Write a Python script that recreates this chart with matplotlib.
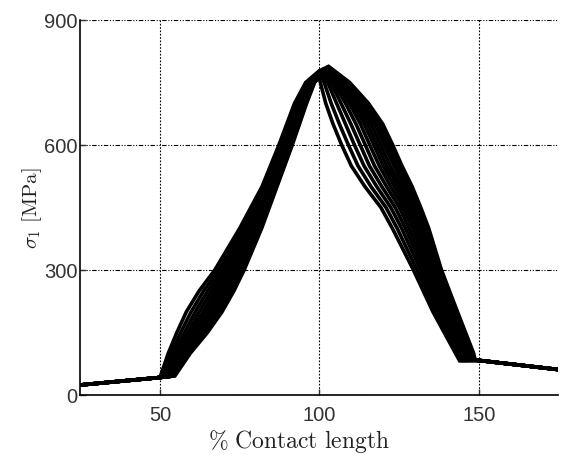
import matplotlib
matplotlib.use("Agg")
import matplotlib.pyplot as plt

plt.rcParams.update(
    {
        "font.family": "Liberation Sans",
        "mathtext.fontset": "cm",
        "figure.dpi": 100,
    }
)

# common ends shared by every load step
left_x = [25, 50]
left_y = [24, 42]
right_x = [150, 175]
right_y = [83, 61]

# stress levels [MPa] at which each profile is sampled on the way up / down
rise_levels = [100, 150, 200, 250, 300, 400, 500, 600, 700, 750]
fall_levels = [750, 700, 650, 600, 550, 500, 450, 400, 300, 200, 100]

# start of the rise (knee), maximum and end of the descent (foot) per step
knee_x = [50.0, 50.6, 51.2, 51.7, 52.2, 52.6, 53.0, 53.3, 53.6, 54.0, 54.2, 54.5, 54.7]
knee_y = [42, 42.5, 43, 43.4, 43.8, 44.2, 44.5, 44.8, 45.1, 45.4, 45.6, 45.8, 46]
peak_x = [99.5, 100.0, 100.4, 100.8, 101.1, 101.4, 101.7, 102.0, 102.2, 102.4, 102.7, 102.8, 103.0]
peak_y = [775, 777, 778, 780, 781, 782, 783, 784, 785, 786, 787, 787, 788]
foot_x = [144.0, 144.6, 145.2, 145.7, 146.2, 146.6, 147.0, 147.4, 147.7, 148.0, 148.3, 148.6, 148.8]
foot_y = [82, 82.5, 83, 83.4, 83.8, 84.2, 84.5, 84.8, 85.1, 85.4, 85.6, 85.8, 86]

# % contact length where each step crosses rise_levels
rise_x = [
    [52.6, 55.3, 58.3, 62.3, 67.2, 75.0, 82.0, 87.3, 92.2, 95.7],
    [53.5, 56.5, 59.8, 63.7, 68.4, 75.9, 82.6, 87.9, 92.7, 96.1],
    [54.3, 57.7, 61.1, 65.0, 69.5, 76.7, 83.2, 88.4, 93.2, 96.4],
    [55.1, 58.8, 62.3, 66.2, 70.5, 77.5, 83.7, 88.8, 93.6, 96.7],
    [55.8, 59.7, 63.5, 67.3, 71.4, 78.2, 84.2, 89.2, 94.0, 97.0],
    [56.4, 60.6, 64.5, 68.3, 72.3, 78.8, 84.6, 89.6, 94.3, 97.2],
    [57.0, 61.4, 65.4, 69.2, 73.0, 79.3, 85.0, 90.0, 94.6, 97.5],
    [57.4, 62.0, 66.1, 69.9, 73.6, 79.8, 85.3, 90.2, 94.9, 97.7],
    [57.9, 62.7, 66.9, 70.7, 74.3, 80.3, 85.6, 90.5, 95.1, 97.9],
    [58.4, 63.4, 67.7, 71.5, 74.9, 80.8, 86.0, 90.8, 95.4, 98.1],
    [58.8, 63.9, 68.4, 72.1, 75.5, 81.2, 86.2, 91.1, 95.6, 98.2],
    [59.2, 64.4, 68.9, 72.7, 75.9, 81.6, 86.5, 91.3, 95.8, 98.4],
    [59.5, 64.9, 69.5, 73.2, 76.4, 81.9, 86.7, 91.5, 96.0, 98.5],
]

# % contact length where each step crosses fall_levels
fall_x = [
    [100.3, 102.0, 104.3, 107.0, 110.0, 114.3, 119.3, 122.9, 129.5, 135.6, 142.7],
    [101.5, 103.7, 106.3, 109.1, 112.1, 116.2, 120.9, 124.4, 130.6, 136.6, 143.4],
    [102.6, 105.4, 108.2, 111.0, 114.0, 118.0, 122.4, 125.8, 131.7, 137.5, 144.1],
    [103.6, 106.8, 109.9, 112.8, 115.7, 119.6, 123.8, 127.0, 132.7, 138.4, 144.8],
    [104.5, 108.2, 111.5, 114.4, 117.3, 121.1, 125.1, 128.1, 133.6, 139.1, 145.3],
    [105.4, 109.4, 112.9, 115.8, 118.8, 122.4, 126.2, 129.2, 134.3, 139.8, 145.8],
    [106.1, 110.4, 114.1, 117.1, 120.0, 123.6, 127.2, 130.1, 135.0, 140.5, 146.3],
    [106.7, 111.4, 115.2, 118.2, 121.1, 124.7, 128.1, 130.9, 135.7, 141.0, 146.7],
    [107.4, 112.3, 116.3, 119.3, 122.2, 125.7, 128.9, 131.7, 136.3, 141.5, 147.1],
    [108.0, 113.3, 117.4, 120.4, 123.4, 126.7, 129.8, 132.5, 136.9, 142.1, 147.5],
    [108.6, 114.1, 118.3, 121.4, 124.3, 127.6, 130.6, 133.2, 137.4, 142.5, 147.8],
    [109.0, 114.7, 119.1, 122.2, 125.1, 128.4, 131.2, 133.7, 137.9, 142.9, 148.1],
    [109.5, 115.4, 119.9, 123.0, 125.9, 129.1, 131.8, 134.3, 138.3, 143.3, 148.4],
]

x_ticks = [50, 100, 150]
y_ticks = [0, 300, 600, 900]


fig = plt.figure(figsize=(5.61, 4.56))
ax = fig.add_axes([0.1431, 0.1316, 0.8524, 0.8224])

for i in range(len(rise_x)):
    xs = left_x + [knee_x[i]] + rise_x[i] + [peak_x[i]] + fall_x[i] + [foot_x[i]] + right_x
    ys = left_y + [knee_y[i]] + rise_levels + [peak_y[i]] + fall_levels + [foot_y[i]] + right_y
    ax.plot(xs, ys, color="k", lw=2.6, solid_joinstyle="miter")

ax.set_xlim(25, 175)
ax.set_ylim(0, 900)
ax.set_xticks(x_ticks)
ax.set_yticks(y_ticks)

ax.set_axisbelow(True)
ax.xaxis.grid(True, color="k", lw=0.8, ls=(0, (1.5, 1.5)))
ax.yaxis.grid(True, color="k", lw=0.8, ls=(0, (4, 1.5, 1, 1.5, 1, 1.5)))

for side in ("top", "right"):
    ax.spines[side].set_visible(False)
for side in ("left", "bottom"):
    ax.spines[side].set_linewidth(1.2)

ax.tick_params(direction="in", length=4, width=1, labelsize=14.5, colors="#333")
ax.tick_params(axis="x", pad=7)
ax.tick_params(axis="y", pad=2)

# x label sits low, just above the lower edge of the figure
fig.text(299 / 561, 8 / 456, r"$\%\ \mathrm{Contact\ length}$",
         fontsize=17, color="#222", ha="center", va="baseline")
ax.set_ylabel(r"$\sigma_1\ [\mathrm{MPa}]$", fontsize=15, color="#222", labelpad=0)

fig.savefig("out.png", dpi=100)
